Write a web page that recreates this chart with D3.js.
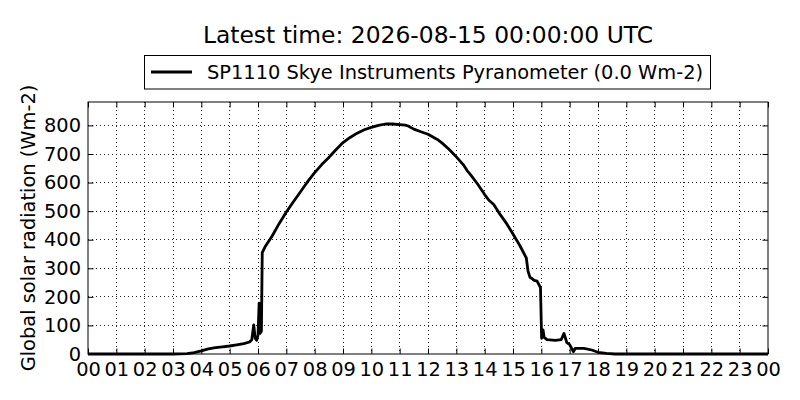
<!DOCTYPE html>
<html>
<head>
<meta charset="utf-8">
<script src="https://cdn.jsdelivr.net/npm/d3@7"></script>
<style>
body{margin:0;background:#fff;}
svg{display:block;font-family:"DejaVu Sans",sans-serif;}
</style>
</head>
<body>
<svg id="chart" width="800" height="400"></svg>
<script>
const titleText = "Latest time: 2026-08-15 00:00:00 UTC";
const seriesName = "SP1110 Skye Instruments Pyranometer (0.0 Wm-2)";
const yLabel = "Global solar radiation (Wm-2)";
const xTickLabels = ["00","01","02","03","04","05","06","07","08","09","10","11","12","13","14","15","16","17","18","19","20","21","22","23","00"];
const yTicks = [0,100,200,300,400,500,600,700,800];
// time in hours since 00 UTC
const hours = [0,3.0,3.5,3.75,4.0,4.25,4.5,4.75,5.0,5.25,5.5,5.7,5.78,5.85,5.9,5.95,6.0,6.04,6.07,6.12,6.15,6.25,6.5,6.75,7.0,7.25,7.5,7.75,8.0,8.25,8.5,8.75,9.0,9.25,9.5,9.75,10.0,10.25,10.5,10.75,11.0,11.2,11.3,11.5,11.75,12.0,12.33,12.5,12.75,13.0,13.25,13.38,13.5,13.75,14.0,14.15,14.32,14.5,14.75,15.0,15.25,15.47,15.53,15.6,15.66,15.75,15.85,15.97,16.01,16.06,16.1,16.2,16.5,16.7,16.8,16.9,17.0,17.13,17.2,17.5,17.78,18.0,18.3,18.6,24];
const radiation = [0,0,1,5,11,18,22,25,28,32,36,42,50,102,55,48,65,178,72,80,355,375,413,457,497,533,568,603,635,663,688,715,740,758,773,785,793,800,805,805,803,801,798,787,778,769,751,738,716,690,662,642,628,595,558,538,523,495,460,420,378,336,290,268,265,258,255,232,55,84,58,50,48,50,72,40,33,8,20,20,14,6,2,0,0];

const svg = d3.select("#chart");
const L = 88, R = 768, T = 102, B = 354;
const x = d3.scaleLinear().domain([0,24]).range([L,R]);
const y = d3.scaleLinear().domain([0,882]).range([B,T]);
const fs = "19.4px";

// grid
const g = svg.append("g").attr("shape-rendering","crispEdges");
g.selectAll("line.vg").data(d3.range(1,24)).enter().append("line")
  .attr("x1",d=>x(d)).attr("x2",d=>x(d)).attr("y1",T).attr("y2",B)
  .attr("stroke","#222").attr("stroke-width",1).attr("stroke-dasharray","1,3");
g.selectAll("line.hg").data(yTicks.filter(d=>d>0)).enter().append("line")
  .attr("x1",L).attr("x2",R).attr("y1",d=>y(d)).attr("y2",d=>y(d))
  .attr("stroke","#222").attr("stroke-width",1).attr("stroke-dasharray","1,3");

// data line
const line = d3.line().x((d,i)=>x(hours[i])).y(d=>y(d));
svg.append("path").datum(radiation).attr("d",line)
  .attr("fill","none").attr("stroke","#000").attr("stroke-width",2.8)
  .attr("stroke-linejoin","round");

// axes with inward ticks
const xt = d3.range(0,25);
const xAxisB = d3.axisBottom(x).tickValues(xt).tickSize(-5.5).tickPadding(9).tickFormat((d,i)=>xTickLabels[i]);
const xAxisT = d3.axisTop(x).tickValues(xt).tickSize(-5.5).tickFormat("");
const yAxisL = d3.axisLeft(y).tickValues(yTicks).tickSize(-5.5).tickPadding(12).tickFormat(d3.format("d"));
const yAxisR = d3.axisRight(y).tickValues(yTicks).tickSize(-5.5).tickFormat("");
function style(sel){
  sel.select(".domain").remove();
  sel.selectAll(".tick line").attr("stroke","#000").attr("stroke-width",1);
  sel.selectAll("text").attr("font-size",fs).attr("font-family","DejaVu Sans").attr("fill","#000");
}
svg.append("g").attr("transform",`translate(0,${B})`).call(xAxisB).call(style)
  .selectAll("text").attr("dy",null).attr("y",21.5);
svg.append("g").attr("transform",`translate(0,${T})`).call(xAxisT).call(style);
svg.append("g").attr("transform",`translate(${L},0)`).call(yAxisL).call(style)
  .selectAll("text").attr("x",-7);
svg.append("g").attr("transform",`translate(${R},0)`).call(yAxisR).call(style);

// frame
svg.append("rect").attr("x",L).attr("y",T).attr("width",R-L).attr("height",B-T)
  .attr("fill","none").attr("stroke","#000").attr("stroke-width",1);

// y label
svg.append("text").attr("transform",`translate(35,${(T+B)/2}) rotate(-90)`)
  .attr("text-anchor","middle").attr("font-size",fs).text(yLabel);

// title
svg.append("text").attr("x",(L+R)/2).attr("y",43).attr("text-anchor","middle")
  .attr("font-size","23.4px").text(titleText);

// legend
svg.append("rect").attr("x",144.5).attr("y",55.5).attr("width",566).attr("height",33.5)
  .attr("fill","#fff").attr("stroke","#000").attr("stroke-width",1);
svg.append("line").attr("x1",151).attr("x2",192).attr("y1",72).attr("y2",72)
  .attr("stroke","#000").attr("stroke-width",2.8);
svg.append("text").attr("x",207).attr("y",79).attr("font-size",fs).text(seriesName);
</script>
</body>
</html>
